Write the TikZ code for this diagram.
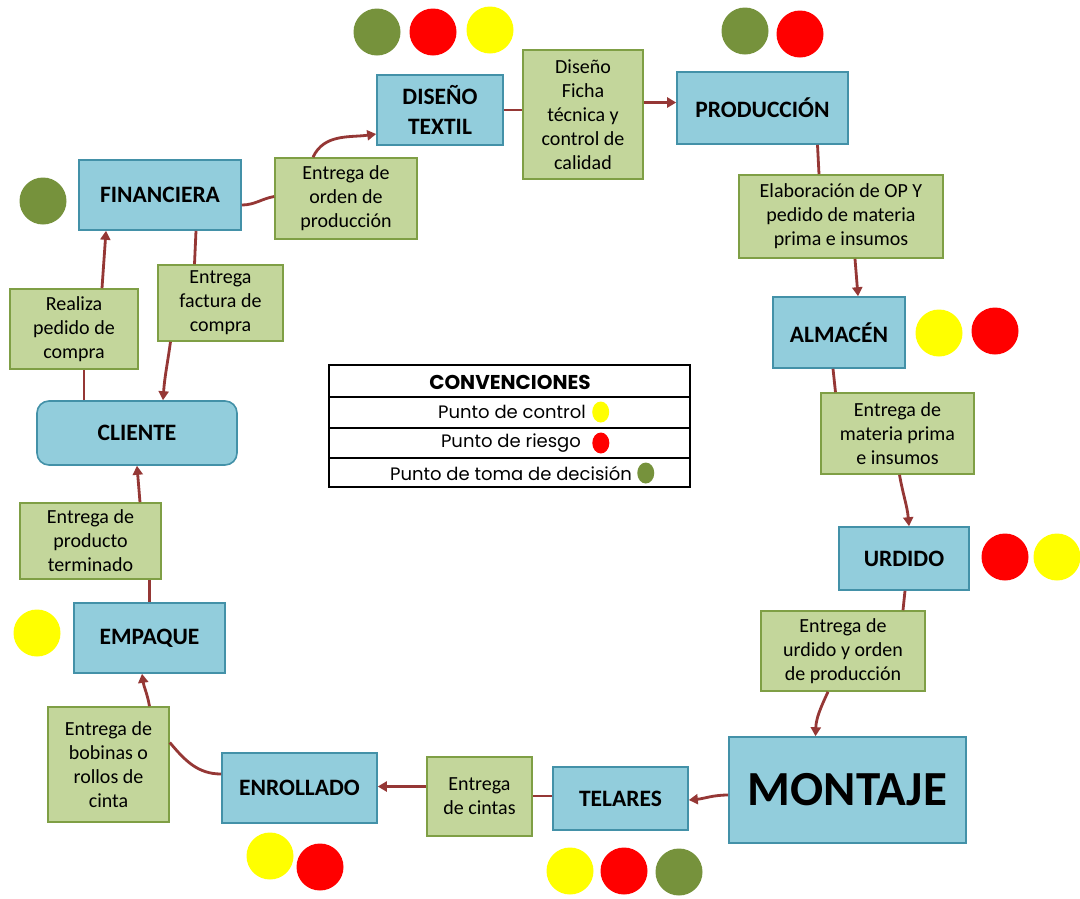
\documentclass[tikz,border=0pt]{standalone}
\usepackage{fontspec}
\setmainfont{Carlito}
\newfontfamily\legfont{Poppins}
\usetikzlibrary{arrows.meta,shapes.geometric}
\definecolor{bfill}{HTML}{92CDDC}
\definecolor{bdraw}{HTML}{4391A8}
\definecolor{gfill}{HTML}{C3D69B}
\definecolor{gdraw}{HTML}{7F9F45}
\definecolor{arr}{HTML}{953735}
\definecolor{olv}{HTML}{76923C}
\definecolor{yel}{HTML}{FFFF00}
\definecolor{rd}{HTML}{FF0000}
\begin{document}
\begin{tikzpicture}[x=1pt,y=-1pt,
 proc/.style={draw=bdraw, fill=bfill, line width=1.6pt, font=\bfseries\fontsize{23.5}{30}\selectfont, align=center, inner sep=0, text=black},
 note/.style={draw=gdraw, fill=gfill, line width=1.6pt, font=\fontsize{20}{24}\selectfont, align=center, inner sep=0, text=black},
 conn/.style={draw=arr, line width=2.8pt},
 arrow/.style={conn, -{Triangle[length=9pt,width=10pt]}},
 dot/.style={circle, minimum size=47, inner sep=0},
 ydot/.style={dot, fill=yel},
 rdot/.style={dot, fill=rd},
 gdot/.style={dot, fill=olv},
 legline/.style={draw=black, line width=1.4pt},
 legtxt/.style={font=\legfont\fontsize{18}{20}\selectfont, inner sep=0},
 ldot/.style={ellipse, minimum width=17, minimum height=21, inner sep=0},
]
\useasboundingbox[fill=white] (0,0) rectangle (1080,898);

% process nodes and notes
\node[proc, minimum width=126, minimum height=70] (dis) at (440,110) {DISEÑO\\TEXTIL};
\node[note, minimum width=120, minimum height=129] (fic) at (583,114.5) {Diseño\\Ficha\\técnica y\\control de\\calidad};
\node[proc, minimum width=171, minimum height=72] (pro) at (762.5,108) {PRODUCCIÓN};
\node[note, minimum width=204, minimum height=83] (ela) at (841,216.5) {Elaboración de OP Y\\pedido de materia\\prima e insumos};
\node[proc, minimum width=132, minimum height=71] (alm) at (839,332.5) {ALMACÉN};
\node[note, minimum width=153, minimum height=81] (mat) at (897.5,433.5) {Entrega de\\materia prima\\e insumos};
\node[proc, minimum width=130, minimum height=63] (urd) at (904,558.5) {URDIDO};
\node[note, minimum width=164, minimum height=80] (uro) at (843,651) {Entrega de\\urdido y orden\\de producción};
\node[proc, minimum width=237, minimum height=106, font=\bfseries\fontsize{49}{52}\selectfont] (mon) at (847.5,790) {MONTAJE};
\node[proc, minimum width=135, minimum height=63] (tel) at (620.5,798.5) {TELARES};
\node[note, minimum width=105, minimum height=79] (cin) at (479.5,796.5) {Entrega\\de cintas};
\node[proc, minimum width=155, minimum height=70] (enr) at (299.5,788) {ENROLLADO};
\node[note, minimum width=121, minimum height=115] (bob) at (108.5,764.5) {Entrega de\\bobinas o\\rollos de\\cinta};
\node[proc, minimum width=151, minimum height=70] (emp) at (149.5,638) {EMPAQUE};
\node[note, minimum width=141, minimum height=76] (ter) at (90.5,541) {Entrega de\\producto\\terminado};
\node[proc, rounded corners=12, minimum width=200, minimum height=64] (cli) at (137,433) {CLIENTE};
\node[note, minimum width=128, minimum height=80] (ped) at (74,329) {Realiza\\pedido de\\compra};
\node[note, minimum width=125, minimum height=76] (fac) at (220.5,303) {Entrega\\factura de\\compra};
\node[proc, minimum width=162, minimum height=70] (fin) at (160,195) {FINANCIERA};
\node[note, minimum width=142, minimum height=81] (ord) at (346,198.5) {Entrega de\\orden de\\producción};

% connectors
\draw[conn] ([yshift=-10]fin.east) to[out=0,in=190] ([yshift=2]ord.west);
\draw[arrow] ([xshift=-33]ord.north) to[out=65,in=188] ([yshift=-24]dis.west);
\draw[conn] (dis.east) -- (dis.east -| fic.west);
\draw[arrow] ([yshift=12]fic.east) -- ([yshift=12]fic.east -| pro.west);
\draw[conn] ([xshift=55]pro.south) -- ([xshift=-22]ela.north);
\draw[arrow] ([xshift=14]ela.south) -- ([xshift=19]alm.north);
\draw[conn] ([xshift=-6]alm.south) -- ([xshift=-62]mat.north);
\draw[arrow] ([xshift=2]mat.south) to[out=-80,in=95] ([xshift=5]urd.north);
\draw[conn] ([xshift=1]urd.south) -- ([xshift=60]uro.north);
\draw[arrow] ([xshift=-15]uro.south) to[out=-115,in=88] ([xshift=-32]mon.north);
\draw[arrow] ([yshift=-5]mon.west) to[out=180,in=5] ([yshift=-1.5]tel.east);
\draw[conn] ([yshift=2.5]tel.west) -- ([yshift=2.5]tel.west -| cin.east);
\draw[arrow] ([yshift=10]cin.west) -- ([yshift=10]cin.west -| enr.east);
\draw[conn] ([yshift=14]enr.west) to[out=180,in=-50] ([yshift=22]bob.east);
\draw[arrow] ([xshift=41]bob.north) to[out=100,in=-82] ([xshift=-7.5]emp.south);
\draw[conn] (emp.north) -- ([xshift=59]ter.south);
\draw[arrow] ([xshift=49.5]ter.north) -- (cli.south);
\draw[conn] ([xshift=-53]cli.north) -- ([xshift=10]ped.south);
\draw[arrow] ([xshift=28]ped.north) -- ([xshift=-54]fin.south);
\draw[conn] ([xshift=36]fin.south) -- ([xshift=-26]fac.north);
\draw[arrow] ([xshift=-50]fac.south) to[out=-98,in=86] ([xshift=26]cli.north);

% status dots
\node[gdot] (d1) at (377,32) {};
\node[rdot] (d2) at (433,32) {};
\node[ydot] (d3) at (490,30) {};
\node[gdot] (d4) at (745,31) {};
\node[rdot] (d5) at (800,34) {};
\node[gdot] (d6) at (43,201) {};
\node[ydot] (d7) at (939,333) {};
\node[rdot] (d8) at (995,331) {};
\node[rdot] (d9) at (1005,557) {};
\node[ydot] (d10) at (1057,557) {};
\node[ydot] (d11) at (37,633) {};
\node[ydot] (d12) at (270,856) {};
\node[rdot] (d13) at (320,867) {};
\node[ydot] (d14) at (570,871) {};
\node[rdot] (d15) at (624,871) {};
\node[gdot] (d16) at (679,872) {};

% legend
\draw[legline] (329,365) rectangle (690,487);
\draw[legline] (329,397) -- (690,397);
\draw[legline] (329,428) -- (690,428);
\draw[legline] (329,458) -- (690,458);
\node[legtxt, font=\legfont\bfseries\fontsize{20}{22}\selectfont] (lt) at (510,382) {CONVENCIONES};
\node[legtxt] (l1) at (512,412) {Punto de control};
\node[legtxt] (l2) at (511,443) {Punto de riesgo};
\node[legtxt] (l3) at (511,473) {Punto de toma de decisión};
\node[ldot, fill=yel, anchor=west] (l1d) at ([xshift=6]l1.east) {};
\node[ldot, fill=rd, anchor=west] (l2d) at ([xshift=11]l2.east) {};
\node[ldot, fill=olv, anchor=west] (l3d) at ([xshift=5]l3.east) {};
\end{tikzpicture}
\end{document}
